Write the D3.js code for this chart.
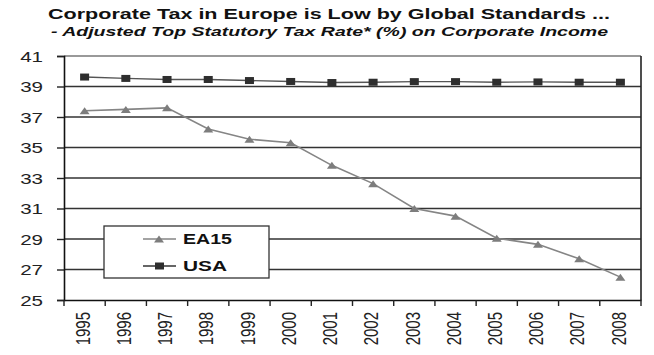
<!DOCTYPE html>
<html><head><meta charset="utf-8">
<script src="https://cdn.jsdelivr.net/npm/d3@7"></script>
<style>
html,body{margin:0;padding:0;background:#fff;}
svg{display:block;font-family:"Liberation Sans",Arial,sans-serif;}
</style></head>
<body><svg id="c" width="654" height="355"></svg>
<script>
const years = ["1995","1996","1997","1998","1999","2000","2001","2002","2003","2004","2005","2006","2007","2008"];
const ea15 = [37.41,37.5,37.6,36.21,35.54,35.31,33.83,32.63,31.0,30.5,29.05,28.65,27.7,26.5];
const usa = [39.62,39.53,39.46,39.46,39.39,39.33,39.26,39.28,39.32,39.32,39.28,39.3,39.28,39.28];
const yTicks = [25,27,29,31,33,35,37,39,41];
const seriesNames = ["EA15","USA"];
const titleText = "Corporate Tax in Europe is Low by Global Standards ...";
const subtitleText = "- Adjusted Top Statutory Tax Rate* (%) on Corporate Income";

const S = 1.37; // horizontal stretch of the source image
const svg = d3.select("#c");
const x = d3.scaleBand().domain(years).range([64, 641]);
const y = d3.scaleLinear().domain([25, 41]).range([300, 56]);
const X0 = 64, X1 = 641;

// Title
svg.append("text").attr("x", 48).attr("y", 19)
  .attr("font-size", 15.5).attr("font-weight", "bold").attr("fill", "#111")
  .attr("textLength", 562).attr("lengthAdjust", "spacingAndGlyphs")
  .text(titleText);
svg.append("text").attr("x", 51).attr("y", 36)
  .attr("font-size", 13.5).attr("font-weight", "bold").attr("font-style", "italic").attr("fill", "#111")
  .attr("textLength", 557).attr("lengthAdjust", "spacingAndGlyphs")
  .text(subtitleText);

// gridlines
svg.append("g").selectAll("line").data(yTicks.filter(d => d > 25 && d < 41)).join("line")
  .attr("x1", X0).attr("x2", X1).attr("y1", d => y(d)).attr("y2", d => y(d))
  .attr("stroke", "#333").attr("stroke-width", 1.3);
// top border
svg.append("line").attr("x1", X0).attr("x2", X1).attr("y1", y(41)).attr("y2", y(41))
  .attr("stroke", "#777").attr("stroke-width", 1.5);
// right border
svg.append("line").attr("x1", X1).attr("x2", X1).attr("y1", y(41)).attr("y2", y(25))
  .attr("stroke", "#222").attr("stroke-width", 1.6);

// y axis
const yAxis = d3.axisLeft(y).tickValues(yTicks).tickSize(7).tickFormat(d3.format("d"));
const gy = svg.append("g").attr("transform", `translate(${X0},0)`).call(yAxis);
gy.select(".domain").attr("stroke", "#111").attr("stroke-width", 1.6);
gy.selectAll(".tick line").attr("stroke", "#222").attr("stroke-width", 1.4);
gy.selectAll(".tick text").attr("font-size", 15).attr("fill", "#222")
  .attr("font-family", "'Liberation Sans',Arial,sans-serif")
  .attr("x", 0).attr("dy", "0.36em")
  .attr("transform", `translate(-21,0) scale(${S},1)`);

// x axis
const xAxis = d3.axisBottom(x).tickSize(0).tickSizeOuter(0);
const gx = svg.append("g").attr("transform", `translate(0,${y(25)})`).call(xAxis);
gx.select(".domain").attr("stroke", "#111").attr("stroke-width", 1.6);
gx.selectAll(".tick line").remove();
gx.selectAll(".tick text").attr("font-size", 15).attr("fill", "#222")
  .attr("font-family", "'Liberation Sans',Arial,sans-serif")
  .attr("text-anchor", "end").attr("x", 0).attr("y", 0).attr("dy", "0.35em")
  .attr("transform", `translate(-2,12) scale(${S},1) rotate(-90)`);
// boundary ticks
const bounds = years.map(d => x(d)).concat([X1]);
svg.append("g").selectAll("line").data(bounds).join("line")
  .attr("x1", d => d).attr("x2", d => d).attr("y1", y(25)).attr("y2", y(25) + 6)
  .attr("stroke", "#222").attr("stroke-width", 1.4);

const cx = d => x(d) + x.bandwidth() / 2;
const tri = (px, py) => `M${px - 5},${py + 3.5}L${px},${py - 3.5}L${px + 5},${py + 3.5}Z`;

// USA series
const lineGen = d3.line().x((d, i) => cx(years[i])).y(d => y(d));
svg.append("path").datum(usa).attr("d", lineGen).attr("fill", "none")
  .attr("stroke", "#555").attr("stroke-width", 1.4);
svg.append("g").selectAll("rect").data(usa).join("rect")
  .attr("x", (d, i) => cx(years[i]) - 4.5).attr("y", d => y(d) - 3.5)
  .attr("width", 9).attr("height", 7).attr("fill", "#2e2e2e");

// EA15 series
svg.append("path").datum(ea15).attr("d", lineGen).attr("fill", "none")
  .attr("stroke", "#858585").attr("stroke-width", 1.6);
svg.append("g").selectAll("path").data(ea15).join("path")
  .attr("d", (d, i) => tri(cx(years[i]), y(d))).attr("fill", "#7d7d7d");

// Legend
const lg = svg.append("g");
lg.append("rect").attr("x", 104).attr("y", 226).attr("width", 165).attr("height", 52)
  .attr("fill", "#fff").attr("stroke", "#333").attr("stroke-width", 1.3);
const legY = [239, 266];
seriesNames.forEach((name, i) => {
  const ly = legY[i];
  lg.append("line").attr("x1", 143).attr("x2", 176).attr("y1", ly).attr("y2", ly)
    .attr("stroke", i === 0 ? "#858585" : "#333").attr("stroke-width", 1.6);
  if (i === 0) lg.append("path").attr("d", tri(159, ly)).attr("fill", "#7d7d7d");
  else lg.append("rect").attr("x", 155).attr("y", ly - 3.5).attr("width", 9).attr("height", 7).attr("fill", "#2e2e2e");
  lg.append("text").attr("x", 183).attr("y", ly + 5).attr("font-size", 14.5).attr("font-weight", "bold")
    .attr("fill", "#111").attr("textLength", i === 0 ? 49 : 44).attr("lengthAdjust", "spacingAndGlyphs")
    .text(name);
});
</script></body></html>
